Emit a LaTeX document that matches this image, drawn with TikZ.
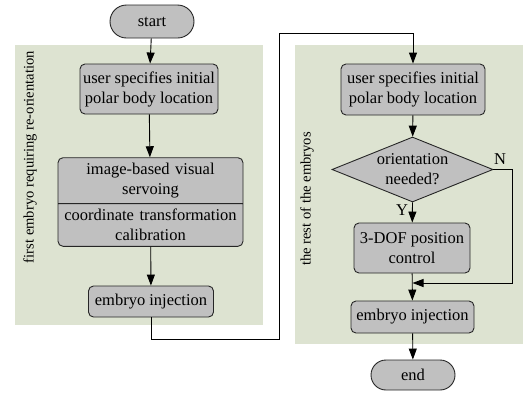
\documentclass[tikz,border=0pt]{standalone}
\usepackage{fontspec}
\setmainfont{Liberation Serif}
\usetikzlibrary{shapes.geometric,shapes.misc,shapes.multipart,arrows.meta}
\definecolor{panelgreen}{RGB}{221,227,209}
\definecolor{boxgrey}{RGB}{192,192,192}
\newcommand{\chartsize}{\fontsize{16.5}{20}\selectfont}
\newcommand{\tagsize}{\fontsize{14.6}{17}\selectfont}

\begin{document}
\begin{tikzpicture}[x=1pt,y=-1pt,>={Triangle[length=11pt,width=8pt]},line width=0.9pt,
    box/.style={rectangle,rounded corners=5pt,draw=black!85,fill=boxgrey,align=center,inner sep=2pt,font=\chartsize},
    term/.style={rounded rectangle,draw=black!85,fill=boxgrey,minimum width=88pt,inner sep=2pt,font=\chartsize},
    dec/.style={diamond,draw=black!85,fill=boxgrey,aspect=2.5,inner sep=0pt,minimum width=161pt,minimum height=65pt,align=center,font=\chartsize},
    panel/.style={rectangle,fill=panelgreen,inner sep=0pt},
    tag/.style={rotate=90,font=\tagsize},
    yn/.style={font=\chartsize}]
\useasboundingbox (0,0) rectangle (525,392);
% background panels
\node[panel,minimum width=248pt,minimum height=280pt] (lpanel) at (139,185) {};
\node[panel,minimum width=228pt,minimum height=299pt] (rpanel) at (409,194.5) {};
\node[tag] (ltag) at (30,157) {first embryo requiring re-orientation};
\node[tag] (rtag) at (307,199) {the rest of the embryos};
% first embryo
\node[term,minimum height=33pt] (start) at (152,21.5) {start};
\node[box,minimum width=138pt,minimum height=50pt] (luser) at (149,89) {user specifies initial\\polar body location};
\node[rectangle split,rectangle split parts=2,rounded corners=5pt,draw=black!85,fill=boxgrey,align=center,
  text width=181pt,inner xsep=2pt,inner ysep=5pt,font=\chartsize] (servo) at (150.5,202)
  {image-based visual\\servoing\nodepart{two}coordinate transformation\\calibration};
\node[box,minimum width=125pt,minimum height=31pt] (linj) at (151,301.5) {embryo injection};
% the rest
\node[box,minimum width=144pt,minimum height=51pt] (ruser) at (413,89.5) {user specifies initial\\polar body location};
\node[dec] (orient) at (412.5,169.5) {orientation\\needed?};
\node[box,minimum width=116pt,minimum height=50pt] (dof) at (412,248) {3-DOF position\\control};
\node[box,minimum width=123pt,minimum height=32pt] (rinj) at (412.5,317) {embryo injection};
\node[term,minimum height=30pt] (end) at (413,375) {end};
\node[yn] (yes) at (402,210) {Y};
\node[yn] (no) at (500,159) {N};
\coordinate (merge) at (412.5,283);
% connectors
\draw[->] (start) -- (luser);
\draw[->] (luser) -- (servo);
\draw[->] (servo) -- (linj);
\draw[->] (linj.south) -- ++(0,22) -| (279,33) -| (ruser.north);
\draw[->] (ruser) -- (orient);
\draw[->] (orient.south) -- (dof);
\draw[->] (orient.east) -| (512,283) -- (merge);
\draw[->] (dof) -- (rinj);
\draw[->] (rinj) -- (end);
\end{tikzpicture}
\end{document}
